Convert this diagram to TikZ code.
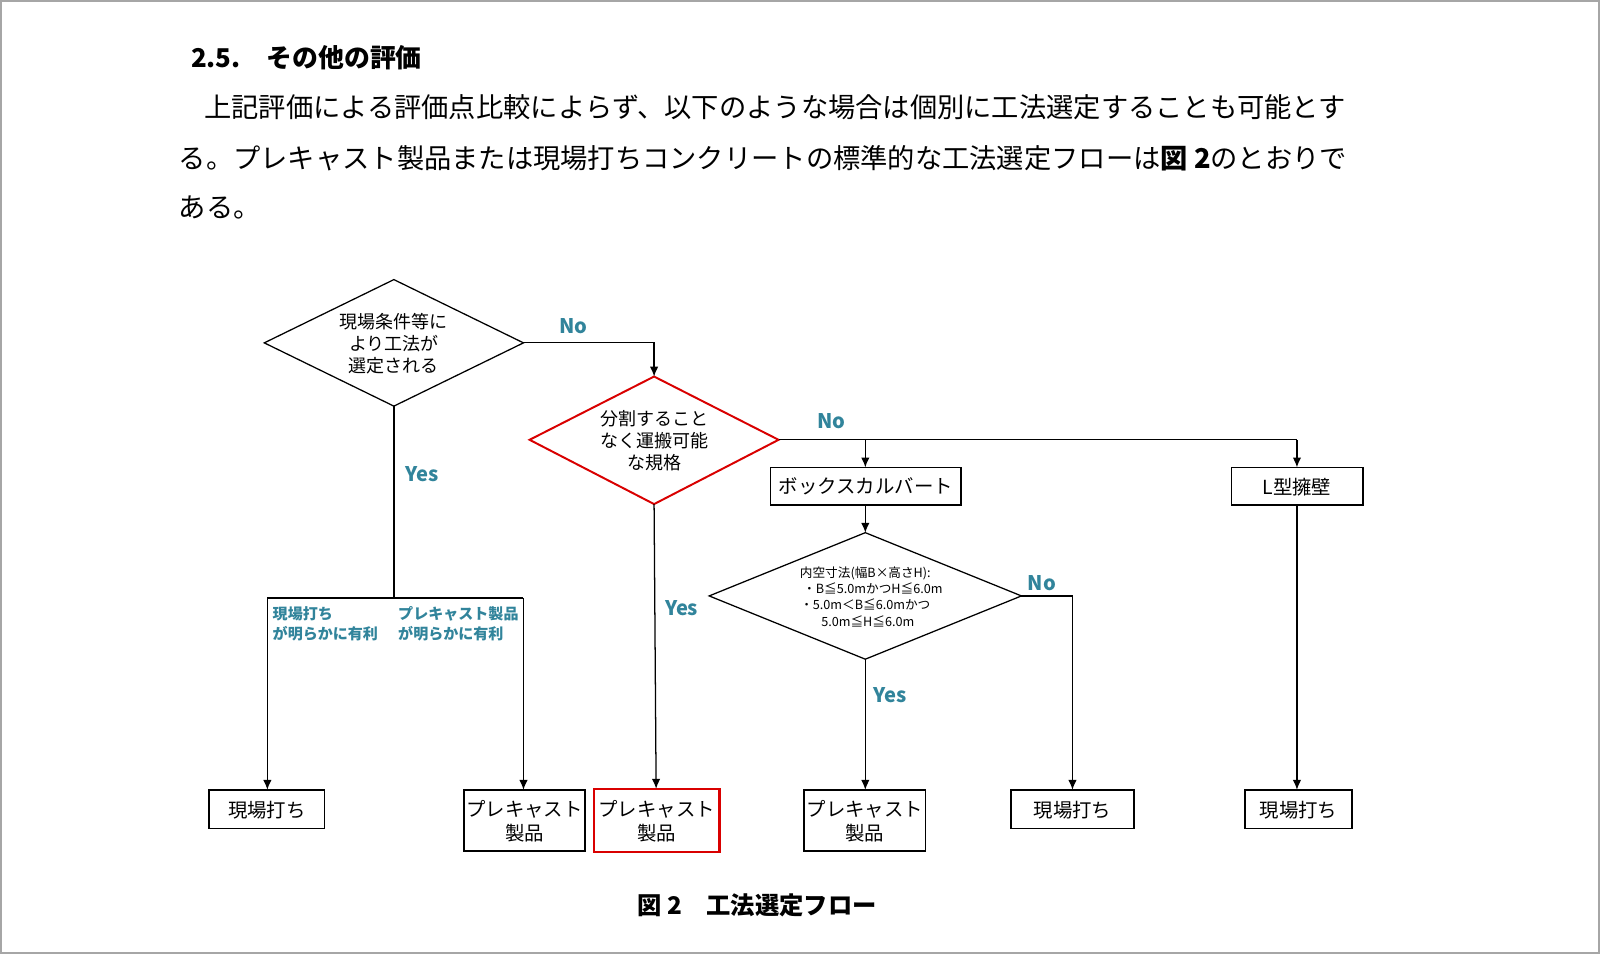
\documentclass[tikz,border=0pt]{standalone}
\usepackage{fontspec}
\setmainfont{Noto Sans CJK JP}
\usetikzlibrary{shapes.geometric,arrows.meta}
\definecolor{teal1}{HTML}{31849B}
\begin{document}
\begin{tikzpicture}[x=0.02551cm,y=-0.02551cm,
 lab/.style={text=teal1,font=\bfseries\fontsize{14.3}{16}\selectfont},
 sl/.style={text=teal1,font=\bfseries\fontsize{10.7}{14.3}\selectfont,align=left,anchor=north west,inner sep=0pt},
 ln/.style={line width=0.9pt},
 ar/.style={ln,-{Latex[length=7pt,width=6pt]}},
 bx/.style={line width=1.2pt},
 bf/.style={font=\fontsize{13.8}{17.3}\selectfont,align=center},
 bt/.style={anchor=west,inner sep=0pt,font=\fontsize{19.4}{22}\selectfont}]
\useasboundingbox (0,0) rectangle (1568,935);
\draw[gray!70,line width=1.5pt,fill=white] (1,1) rectangle (1567,934);
\node[anchor=west,inner sep=0pt,font=\bfseries\fontsize{18.4}{22}\selectfont] (h) at (187,57) {2.5.\quad その他の評価};
\node[bt] (l1) at (200,105) {上記評価による評価点比較によらず、以下のような場合は個別に工法選定することも可能とす};
\node[bt] (l2) at (175,155) {る。プレキャスト製品または現場打ちコンクリートの標準的な工法選定フローは\textbf{図 2}のとおりで};
\node[bt] (l3) at (175,203) {ある。};
% diamonds
\draw[ln] (259,336)--(386,274)--(513,336)--(386,398)--cycle;
\node[align=center,font=\fontsize{12.8}{15.8}\selectfont] (t1) at (386,337) {現場条件等に\\より工法が\\選定される};
\draw[red!85!black,line width=1.4pt] (519,431)--(641,369)--(763,431)--(641,494)--cycle;
\node[align=center,font=\fontsize{12.8}{15.8}\selectfont] (t2) at (641,432) {分割すること\\なく運搬可能\\な規格};
\draw[ln] (695,584)--(848,522)--(1001,584)--(848,646)--cycle;
\node[align=center,font=\fontsize{9}{11.4}\selectfont] (t3) at (848,585) {内空寸法(幅B×高さH):\\\hspace*{1.2em}・B≦5.0mかつH≦6.0m\\・5.0m＜B≦6.0mかつ\\\hspace*{0.4em}5.0m≦H≦6.0m};
\coordinate (d1r) at (513,336); \coordinate (d1b) at (386,398);
\coordinate (d2t) at (641,369); \coordinate (d2r) at (763,431); \coordinate (d2b) at (641,494);
\coordinate (d3t) at (848,522); \coordinate (d3r) at (1001,584); \coordinate (d3b) at (848,646);
% boxes
\draw[bx] (755,458) rectangle (942,495);
\node[bf] (bc) at (848.5,477) {ボックスカルバート};
\draw[bx] (1207,458) rectangle (1336,495);
\node[bf] (lw) at (1271,477) {L型擁壁};
\draw[bx] (205,774) rectangle (318,812);
\node[bf] (b1) at (261.5,794) {現場打ち};
\draw[bx] (455,774) rectangle (573,834);
\node[bf] (b2) at (514,805) {プレキャスト\\製品};
\draw[red!85!black,line width=1.6pt] (582,773) rectangle (705,835);
\node[bf] (b3) at (643.5,805) {プレキャスト\\製品};
\draw[bx] (788,774) rectangle (907,834);
\node[bf] (b4) at (847.5,805) {プレキャスト\\製品};
\draw[bx] (991,774) rectangle (1111,812);
\node[bf] (b5) at (1051,794) {現場打ち};
\draw[bx] (1220,774) rectangle (1325,812);
\node[bf] (b6) at (1272.5,794) {現場打ち};
% connectors
\draw[ar] (d1r)--(641,336)--(d2t);
\draw[ln] (d1b)--(386,586); \draw[ln] (262,586)--(513,586);
\draw[ar] (262,586)--(262,774);
\draw[ar] (513,586)--(513,774);
\draw[ln] (d2r)--(1271,431); \draw[ar] (1271,431)--(1271,458);
\draw[ar] (848,431)--(848,458);
\draw[ar] (d2b)--(643,773);
\draw[ar] (848,495)--(d3t);
\draw[ar] (d3r)--(1051,584)--(1051,774);
\draw[ar] (d3b)--(848,774);
\draw[ar] (1271,495)--(1271,774);
% labels
\node[lab] at (562,320) {No};
\node[lab] at (414,465) {Yes};
\node[lab] at (815,413) {No};
\node[lab] at (668,596) {Yes};
\node[lab] at (1021,571) {No};
\node[lab] at (872,681) {Yes};
\node[sl] at (267,594) {現場打ち\\が明らかに有利};
\node[sl] at (390,594) {プレキャスト製品\\が明らかに有利};
\node[font=\bfseries\fontsize{17.3}{20}\selectfont] (cap) at (742,887) {図 2\quad 工法選定フロー};
\end{tikzpicture}
\end{document}
